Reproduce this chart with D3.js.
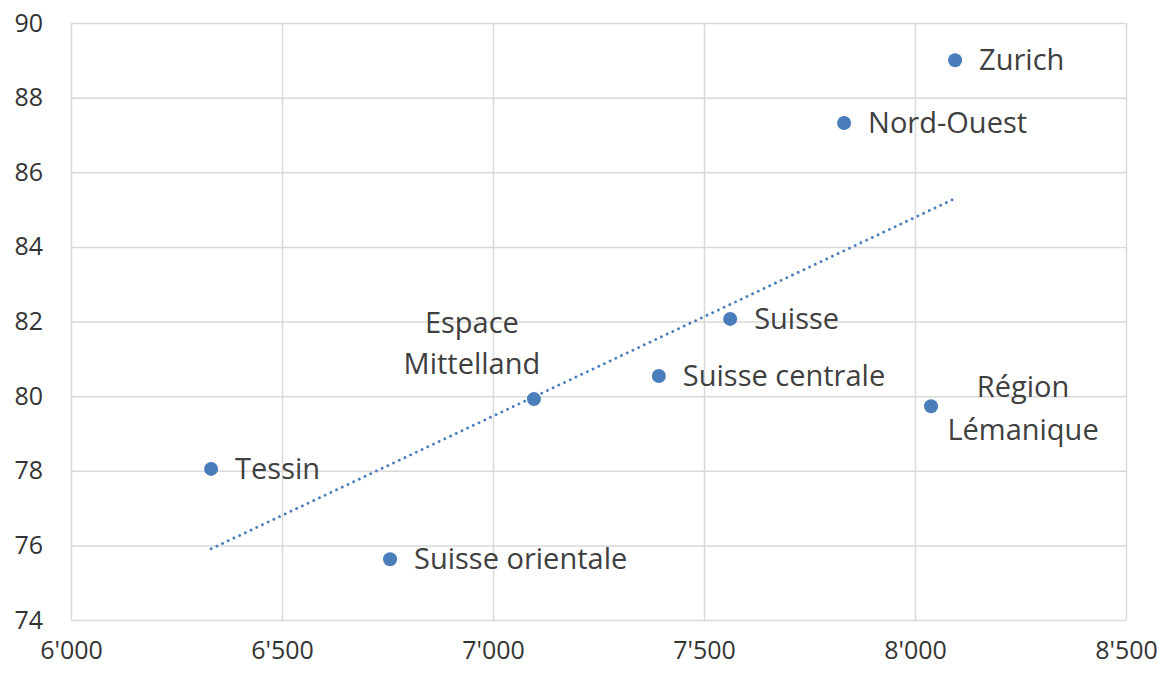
<!DOCTYPE html>
<html>
<head>
<meta charset="utf-8">
<script src="https://cdn.jsdelivr.net/npm/d3@7"></script>
<style>
  body { margin: 0; background: #fff; }
  svg { display: block; font-family: "Open Sans", "Noto Sans", sans-serif; }
  .lbl { fill: #404040; font-size: 29px; }
</style>
</head>
<body>
<div id="chart"></div>
<script>
// regions, income (x) and index (y)
const regions = ["Tessin", "Suisse orientale", "Espace Mittelland", "Suisse centrale", "Suisse", "Nord-Ouest", "Zurich", "Région Lémanique"];
const xValues = [6332, 6756, 7097, 7393, 7562, 7832, 8095, 8038];
const yValues = [78.05, 75.63, 79.92, 80.54, 82.07, 87.32, 89.0, 79.73];
const xTicks = [6000, 6500, 7000, 7500, 8000, 8500];
const yTicks = [74, 76, 78, 80, 82, 84, 86, 88, 90];

(function scatter() {
  const width = 1159,
    height = 674,
    margin = {top: 23, right: 33, bottom: 54, left: 71};

  const svg = d3.select("#chart")
    .append("svg")
    .attr("width", width)
    .attr("height", height);

  const data = regions.map((r, i) => ({name: r, x: xValues[i], y: yValues[i]}));

  const x = d3.scaleLinear([6000, 8500], [margin.left, width - margin.right]);
  const y = d3.scaleLinear([74, 90], [height - margin.bottom, margin.top]);

  const fmt = d => d3.format(",")(d).replace(",", "'");

  // grid + axes
  svg.append("g")
    .attr("transform", `translate(0,${height - margin.bottom})`)
    .call(d3.axisBottom(x).tickValues(xTicks).tickFormat(fmt)
      .tickSize(-(height - margin.top - margin.bottom)).tickPadding(21))
    .call(g => g.select(".domain").remove())
    .call(g => g.selectAll(".tick line").attr("stroke", "#d9d9d9").attr("stroke-width", 1.5));

  svg.append("g")
    .attr("transform", `translate(${margin.left},0)`)
    .call(d3.axisLeft(y).tickValues(yTicks)
      .tickSize(-(width - margin.left - margin.right)).tickPadding(28))
    .call(g => g.select(".domain").remove())
    .call(g => g.selectAll(".tick line").attr("stroke", "#d9d9d9").attr("stroke-width", 1.5));

  svg.selectAll(".tick text")
    .attr("fill", "#333")
    .attr("font-size", 25)
    .attr("font-family", "'Open Sans', 'Noto Sans', sans-serif");

  // linear trendline
  const mx = d3.mean(xValues), my = d3.mean(yValues);
  const slope = d3.sum(data, d => (d.x - mx) * (d.y - my)) / d3.sum(data, d => (d.x - mx) ** 2);
  const x0 = d3.min(xValues), x1 = d3.max(xValues);
  svg.append("line")
    .attr("x1", x(x0))
    .attr("y1", y(my + slope * (x0 - mx)))
    .attr("x2", x(x1))
    .attr("y2", y(my + slope * (x1 - mx)))
    .attr("stroke", "#4a7ebb")
    .attr("stroke-width", 2.8)
    .attr("stroke-linecap", "round")
    .attr("stroke-dasharray", "0.1 6.2");

  svg.append("g")
    .selectAll("circle")
    .data(data)
    .join("circle")
    .attr("cx", d => x(d.x))
    .attr("cy", d => y(d.y))
    .attr("r", 7)
    .attr("fill", "#4a7ebb");

  // label placement (dx, line offsets, anchor)
  const place = {
    "Espace Mittelland": {dx: -62, dys: [-76, -35], anchor: "middle"},
    "Région Lémanique": {dx: 92, dys: [-19, 24], anchor: "middle"}
  };
  const lines = {
    "Espace Mittelland": ["Espace", "Mittelland"],
    "Région Lémanique": ["Région", "Lémanique"]
  };

  data.forEach(d => {
    const p = place[d.name] || {dx: 24, dys: [0], anchor: "start"};
    const txt = lines[d.name] || [d.name];
    txt.forEach((t, i) => {
      svg.append("text")
        .attr("class", "lbl")
        .attr("x", x(d.x) + p.dx)
        .attr("y", y(d.y) + p.dys[i])
        .attr("dy", "0.35em")
        .attr("text-anchor", p.anchor)
        .text(t);
    });
  });
})();
</script>
</body>
</html>
